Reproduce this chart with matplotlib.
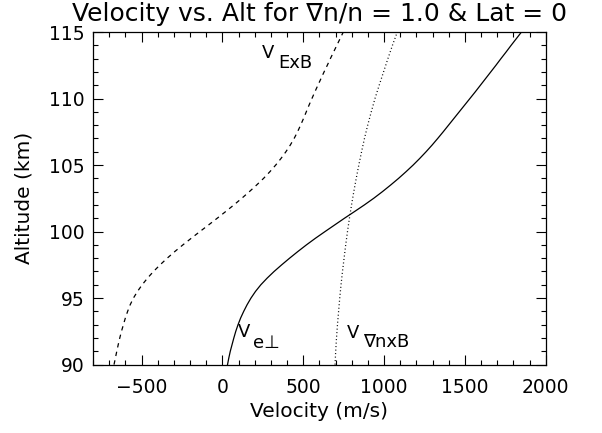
import numpy as np
import matplotlib
matplotlib.use("Agg")
import matplotlib.pyplot as plt

# altitude grid, km (0.5 km step)
alt = np.arange(90, 115.01, 0.5)

# V_ExB, m/s (dashed)
v_exb = [-670, -661.5, -653, -644, -634.5, -624, -612, -600, -586, -570,
         -550, -525, -496, -463, -426, -385, -341, -294, -244, -192,
         -139, -85, -32, 20, 71, 120, 167, 212, 255, 294,
         330, 363, 393, 420, 444, 465, 484, 502, 519, 536,
         554, 572, 591, 610, 629, 649, 668, 688, 708, 728,
         748]

# V_gradn x B, m/s (dotted)
v_gnb = [697, 699, 701, 703.5, 706, 709, 712, 715.5, 719, 722.5,
         726, 730, 734, 738.5, 743, 748, 753, 758, 763, 768.5,
         774, 780, 786, 792.5, 799, 806, 813, 820.5, 828, 836,
         844, 852.5, 861, 870, 879, 889, 899, 910, 921, 932.5,
         944, 957, 970, 983.5, 997, 1010.5, 1024, 1038, 1052, 1067,
         1082]

# V_e perp, m/s (solid)
v_e = [32, 40, 49, 60, 71, 83, 97, 113, 132, 153,
       177, 205, 238, 277, 320, 367, 416, 467, 520, 576,
       635, 695, 755, 817, 878, 936, 990, 1041, 1090, 1136,
       1180, 1221, 1260, 1297, 1332, 1366, 1399, 1432, 1465, 1498,
       1531, 1564, 1596, 1628, 1660, 1692, 1723, 1755, 1786, 1818,
       1850]

plt.rcParams['font.family'] = ['DejaVu Sans']

fig = plt.figure(figsize=(6.02, 4.33), dpi=100)
ax = fig.add_axes([0.1545, 0.158, 0.752, 0.768])

ax.plot(v_exb, alt, color='black', lw=0.9, dashes=(3.5, 3.5))
ax.plot(v_gnb, alt, color='black', lw=0.9, dashes=(0.8, 2.0))
ax.plot(v_e, alt, color='black', lw=0.9)

ax.set_xlim(-800, 2000)
ax.set_ylim(90, 115)
ax.set_xticks([-500, 0, 500, 1000, 1500, 2000])
ax.set_xticks(np.arange(-800, 2001, 100), minor=True)
ax.set_yticks([90, 95, 100, 105, 110, 115])
ax.set_yticks(np.arange(90, 116, 1), minor=True)
ax.tick_params(which='both', direction='in', top=True, right=True, width=0.8,
               labelsize=13.5)
ax.tick_params(which='major', length=7)
ax.tick_params(which='minor', length=3.5)
ax.tick_params(axis='x', which='major', pad=10)
ax.tick_params(axis='y', which='major', pad=6)
for s in ax.spines.values():
    s.set_linewidth(0.9)

ax.set_xlabel('Velocity (m/s)', fontsize=14.5, labelpad=3)
ax.set_ylabel('Altitude (km)', fontsize=14.5, labelpad=11)
ax.set_title('Velocity vs. Alt for \u2207n/n = 1.0 & Lat = 0', fontsize=18, pad=8)

fs = 13
ax.text(247, 113.05, 'V', fontsize=fs)
ax.text(346, 112.3, 'ExB', fontsize=fs)
ax.text(93, 92.07, 'V', fontsize=fs)
ax.text(192, 91.24, 'e\u22a5', fontsize=fs)
ax.text(773, 92.0, 'V', fontsize=fs)
ax.text(871, 91.3, '\u2207nxB', fontsize=fs)

fig.savefig('out.png', dpi=100)
